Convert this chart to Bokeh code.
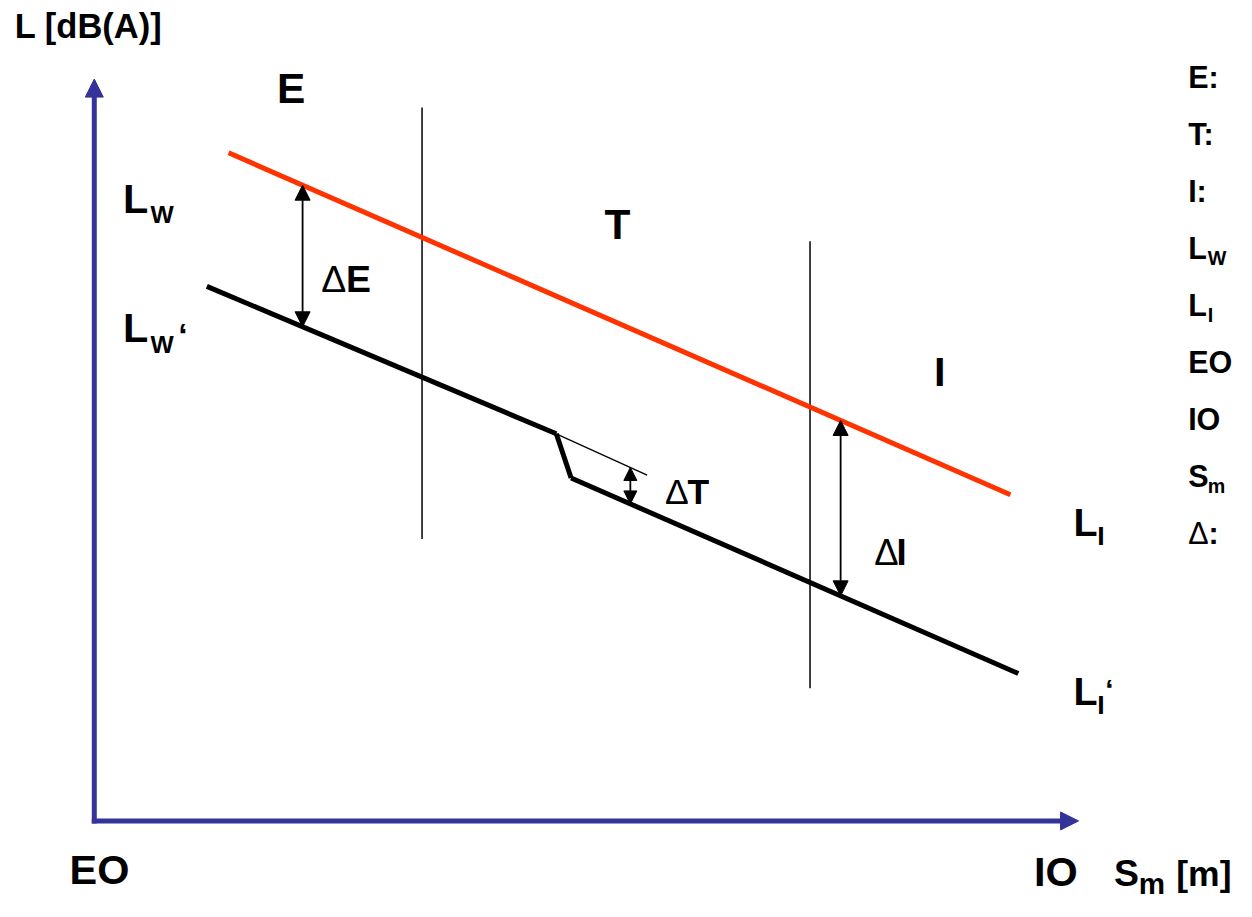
import numpy as np
from bokeh.plotting import figure
from bokeh.models import Range1d, Arrow, NormalHead, Label
from bokeh.embed import file_html
from bokeh.resources import INLINE

# ---- schematic values (arbitrary units, origin = axis crossing EO) ----
axis_x_len = 997          # distance axis S_m (EO -> IO)
axis_y_len = 755          # level axis L [dB(A)]

red_x = [136, 928]        # L_W -> L_I (without measures)
red_y = [680, 332]
blk1_x = [114, 468]       # L_W' before transmission measure
blk1_y = [544, 394]
step_x = [468, 483]       # transmission step (Delta T)
step_y = [394, 349]
blk2_x = [483, 936]       # after step -> L_I'
blk2_y = [349, 150]
ext_x = [468, 560]        # thin continuation of L_W' without step
ext_y = [394, 352]
bound_x = [332, 725]      # boundaries E | T | I
bound_y0 = [287, 135]
bound_y1 = [726, 590]
delta_x = [211, 543, 756]  # positions of Delta E, Delta T, Delta I

legend_items = ["E:", "T:", "I:", ("L", "W"), ("L", "I"), "EO", "IO", ("S", "m"), ("Δ", ":")]

FONT = "Liberation Sans"
RED = "#ff3300"
BLUE = "#333399"
FS = 0.985          # font scale
YU = 917 / 901      # data units per screen pixel (vertical)

p = figure(width=1236, height=901, output_backend="svg", toolbar_location=None,
           x_range=Range1d(-95, 1157), y_range=Range1d(-82, 835),
           x_axis_location=None, y_axis_location=None, min_border=0,
           outline_line_color=None, background_fill_color="white")
p.xgrid.visible = False
p.ygrid.visible = False

# axes as arrows
p.add_layout(Arrow(end=NormalHead(size=18, fill_color=BLUE, line_color=BLUE),
                   x_start=0, y_start=-2.5, x_end=0, y_end=axis_y_len,
                   line_color=BLUE, line_width=5))
p.add_layout(Arrow(end=NormalHead(size=18, fill_color=BLUE, line_color=BLUE),
                   x_start=-2.5, y_start=0, x_end=axis_x_len, y_end=0,
                   line_color=BLUE, line_width=5))

# region boundaries
p.segment(x0=bound_x, y0=bound_y0, x1=bound_x, y1=bound_y1, line_color="black", line_width=1.5)

# level lines
p.segment(x0=[red_x[0]], y0=[red_y[0]], x1=[red_x[1]], y1=[red_y[1]], line_color=RED, line_width=5)
for xs, ys in [(blk1_x, blk1_y), (step_x, step_y), (blk2_x, blk2_y)]:
    p.segment(x0=[xs[0]], y0=[ys[0]], x1=[xs[1]], y1=[ys[1]], line_color="black", line_width=5)
p.segment(x0=[ext_x[0]], y0=[ext_y[0]], x1=[ext_x[1]], y1=[ext_y[1]], line_color="black", line_width=1.3)

# delta double arrows
top_lines = [(red_x, red_y), (ext_x, ext_y), (red_x, red_y)]
bot_lines = [(blk1_x, blk1_y), (blk2_x, blk2_y), (blk2_x, blk2_y)]
head_sizes = [15, 13, 15]
for xd, (tx, ty), (bx, by), hs in zip(delta_x, top_lines, bot_lines, head_sizes):
    yt = float(np.interp(xd, tx, ty))
    yb = float(np.interp(xd, bx, by))
    p.add_layout(Arrow(start=NormalHead(size=hs, fill_color="black", line_color="black"),
                       end=NormalHead(size=hs, fill_color="black", line_color="black"),
                       x_start=xd, y_start=yb, x_end=xd, y_end=yt,
                       line_color="black", line_width=1.8))


def lab(x, y, text, size, bold=True, align="left"):
    px = size * FS
    # y is the wanted baseline; the rendered anchor sits ~0.36 em above it
    p.add_layout(Label(x=x, y=y + 0.36 * px * YU, text=text, text_font=FONT,
                       text_font_size=f"{px:.1f}px",
                       text_font_style="bold" if bold else "normal", text_color="black",
                       text_align=align, text_baseline="alphabetic"))


# axis titles / ends
lab(-80.5, 796, "L [dB(A)]", 35)
lab(-25, -65, "EO", 42)
lab(952, -67, "IO", 42)
lab(1033, -67, "S", 38)
lab(1058, -74, "m", 30)
lab(1096, -67, "[m]", 36)

# region labels
lab(185, 730, "E", 43)
lab(530, 592, "T", 43, align="center")
lab(856.5, 442, "I", 42, align="center")

# level labels
lab(29, 618, "L", 42)
lab(57, 608, "W", 25)
lab(29, 487, "L", 42)
lab(57, 476, "W", 25)
lab(85, 482, "‘", 34)
lab(992, 290, "L", 40)
lab(1016, 280, "I", 27)
lab(992, 118, "L", 40)
lab(1016, 108, "I", 27)
lab(1024, 123, "‘", 30)

# delta labels
lab(230, 538, "Δ", 38, bold=False)
lab(255, 538, "E", 38)
lab(578, 322, "Δ", 36, bold=False)
lab(601, 322, "T", 36)
lab(790, 260, "Δ", 37, bold=False)
lab(812.6, 260, "I", 37)

# legend column at right
lx = 1108
ly0 = 745.5
for i, item in enumerate(legend_items):
    yy = ly0 - 58 * i
    if isinstance(item, tuple):
        main, sub = item
        if main == "Δ":
            lab(lx, yy, main, 31, bold=False)
            lab(lx + 20.7, yy, sub, 31)
        else:
            lab(lx, yy, main, 31)
            lab(lx + 20, yy - 6, sub, 20)
    else:
        lab(lx, yy, item, 31)

open("out.html", "w").write(file_html(p, INLINE))
